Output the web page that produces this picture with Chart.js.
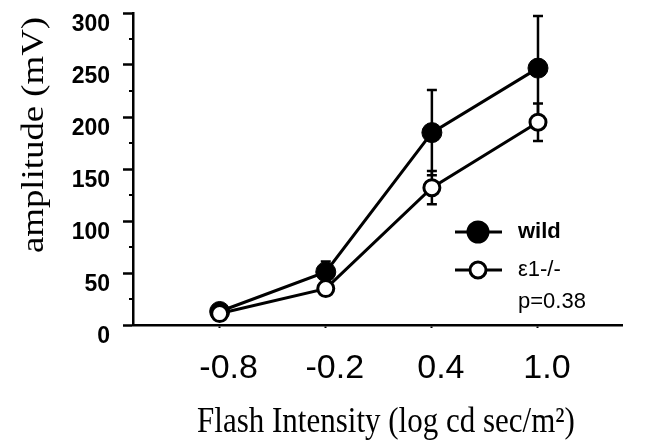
<!DOCTYPE html>
<html>
<head>
<meta charset="utf-8">
<script src="https://cdn.jsdelivr.net/npm/chart.js@4.4.1/dist/chart.umd.min.js"></script>
<style>
  html, body { margin: 0; padding: 0; background: #fff; }
  #wrap { width: 647px; height: 441px; }
</style>
</head>
<body>
<div id="wrap"><canvas id="erg"></canvas></div>
<script>
// flash intensities (log cd sec/m2) and tick text
const intensities = [-0.8, -0.2, 0.4, 1.0];
const tickLabels = ['-0.8', '-0.2', '0.4', '1.0'];
const yTicks = [0, 50, 100, 150, 200, 250, 300];
const yMinorTicks = [25, 75, 125, 175, 225, 275];

// amplitude (mV), mean and error
const wildMean = [13, 51, 185, 247];
const wildErr = [3, 10, 41, 50];
const koMean = [11, 35, 132, 195];
const koErr = [3, 3, 16, 18];

const toPoints = (ys) => intensities.map((x, i) => ({ x: x, y: ys[i] }));

const SERIF = '"Liberation Serif", "Times New Roman", serif';
const SANS = '"Liberation Sans", Arial, sans-serif';

// error bars, drawn under the markers
const errorBars = {
    id: 'errorBars',
    beforeDatasetsDraw(chart) {
        const ctx = chart.ctx;
        const xs = chart.scales.x, ys = chart.scales.y;
        const sets = [[wildMean, wildErr], [koMean, koErr]];
        ctx.save();
        ctx.strokeStyle = '#000';
        ctx.lineWidth = 2.5;
        sets.forEach(([m, e]) => {
            intensities.forEach((v, i) => {
                const px = xs.getPixelForValue(v);
                const top = ys.getPixelForValue(m[i] + e[i]);
                const bot = ys.getPixelForValue(m[i] - e[i]);
                ctx.beginPath();
                ctx.moveTo(px, top); ctx.lineTo(px, bot);
                ctx.moveTo(px - 5, top); ctx.lineTo(px + 5, top);
                ctx.moveTo(px - 5, bot); ctx.lineTo(px + 5, bot);
                ctx.stroke();
            });
        });
        // small minor ticks on the y axis
        ctx.lineWidth = 2;
        yMinorTicks.forEach(v => {
            const py = ys.getPixelForValue(v);
            ctx.beginPath();
            ctx.moveTo(ys.right - 4, py); ctx.lineTo(ys.right, py);
            ctx.stroke();
        });
        ctx.restore();
    }
};

// axis titles (the original is slightly stretched vertically), legend and p value
const annotations = {
    id: 'annotations',
    afterDraw(chart) {
        const ctx = chart.ctx;
        ctx.save();
        ctx.fillStyle = '#000';

        // x title
        ctx.save();
        ctx.translate(386, 432);
        ctx.scale(1, 1.15);
        ctx.font = '31px ' + SERIF;
        ctx.textAlign = 'center';
        ctx.textBaseline = 'alphabetic';
        ctx.fillText('Flash Intensity (log cd sec/m²)', 0, 0);
        ctx.restore();

        // y title
        ctx.save();
        ctx.translate(43, 135);
        ctx.rotate(-Math.PI / 2);
        ctx.scale(1.15, 1);
        ctx.font = '32px ' + SERIF;
        ctx.textAlign = 'center';
        ctx.textBaseline = 'alphabetic';
        ctx.fillText('amplitude (mV)', 0, 0);
        ctx.restore();

        const items = [
            { text: 'wild', fill: '#000', bold: true, y: 232 },
            { text: 'ε1-/-', fill: '#fff', bold: false, y: 270 }
        ];
        ctx.strokeStyle = '#000';
        ctx.textBaseline = 'middle';
        items.forEach(it => {
            ctx.lineWidth = 3;
            ctx.beginPath();
            ctx.moveTo(455, it.y); ctx.lineTo(502, it.y);
            ctx.stroke();
            ctx.beginPath();
            ctx.arc(478, it.y, it.bold ? 10 : 8, 0, Math.PI * 2);
            ctx.fillStyle = it.fill;
            ctx.fill();
            ctx.stroke();
            ctx.fillStyle = '#000';
            ctx.font = (it.bold ? 'bold ' : '') + '22px ' + SANS;
            ctx.fillText(it.text, 518, it.y);
        });
        ctx.font = '22px ' + SANS;
        ctx.fillText('p=0.38', 518, 302);
        ctx.restore();
    }
};

new Chart(document.getElementById('erg'), {
    type: 'line',
    data: {
        datasets: [{
            label: 'wild',
            data: toPoints(wildMean),
            borderColor: '#000',
            borderWidth: 3,
            pointRadius: 10,
            pointBackgroundColor: '#000',
            pointBorderColor: '#000',
            pointBorderWidth: 1,
            order: 1
        }, {
            label: 'ε1-/-',
            data: toPoints(koMean),
            borderColor: '#000',
            borderWidth: 3,
            pointRadius: 8,
            pointBackgroundColor: '#fff',
            pointBorderColor: '#000',
            pointBorderWidth: 3,
            order: 0
        }]
    },
    options: {
        responsive: true,
        maintainAspectRatio: false,
        animation: false,
        layout: { padding: { left: 0, right: 25, top: 12, bottom: 0 } },
        plugins: { legend: { display: false }, tooltip: { enabled: false } },
        scales: {
            x: {
                type: 'linear',
                min: -1.29,
                max: 1.475,
                afterBuildTicks: (s) => { s.ticks = intensities.map(v => ({ value: v })); },
                afterFit: (s) => { s.height = 116; },
                border: { color: '#000', width: 2.5 },
                grid: { drawOnChartArea: false, color: '#000', tickLength: 3, tickWidth: 2 },
                ticks: {
                    color: '#000',
                    padding: 20,
                    labelOffset: 9,
                    maxRotation: 0,
                    font: { family: SANS, size: 34 },
                    callback: (v) => tickLabels[intensities.indexOf(v)]
                }
            },
            y: {
                min: 0,
                max: 300,
                afterBuildTicks: (s) => { s.ticks = yTicks.map(v => ({ value: v })); },
                afterFit: (s) => { s.width = 133; },
                border: { color: '#000', width: 2.5 },
                grid: { drawOnChartArea: false, color: '#000', tickLength: 10, tickWidth: 2.5 },
                ticks: {
                    color: '#000',
                    align: 'start',
                    padding: 13,
                    font: { family: SANS, size: 23, weight: 'bold' }
                }
            }
        }
    },
    plugins: [errorBars, annotations]
});
</script>
</body>
</html>
